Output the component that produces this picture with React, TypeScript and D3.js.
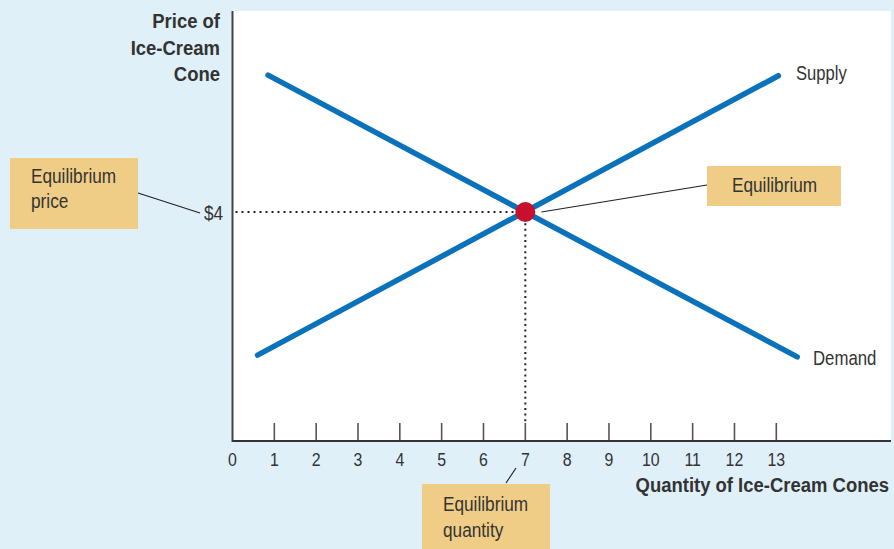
import React from "react";
import * as d3 from "d3";

const quantityTicks = [0, 1, 2, 3, 4, 5, 6, 7, 8, 9, 10, 11, 12, 13];
const supplyQ = [0.6, 13.05];
const supplyP = [1.5, 6.38];
const demandQ = [0.85, 13.5];
const demandP = [6.39, 1.47];
const eqQuantity = 7;
const eqPrice = 4;
const priceTickLabels = ["$4"];

const W = 894;
const H = 549;
const FONT = "'Liberation Sans', Arial, sans-serif";
const TXT = "#333";
const BOX = "#efcd86";
const BG = "#dff0f9";
const BLUE = "#0a72bb";

type TProps = {
  x: number;
  y: number;
  size: number;
  sx: number;
  bold?: boolean;
  anchor?: "start" | "middle" | "end";
  children: React.ReactNode;
};

function T({ x, y, size, sx, bold, anchor = "start", children }: TProps) {
  return (
    <text
      transform={`translate(${x},${y}) scale(${sx},1)`}
      fontSize={size}
      fontWeight={bold ? "bold" : "normal"}
      textAnchor={anchor}
      fill={TXT}
    >
      {children}
    </text>
  );
}

export default function App() {
  const x = d3.scaleLinear().domain([0, 13]).range([232.5, 776.3]);
  const y = d3.scaleLinear().domain([0, 4]).range([441, 212]);
  const line = d3
    .line<[number, number]>()
    .x((d) => x(d[0]))
    .y((d) => y(d[1]));
  const supply: [number, number][] = supplyQ.map((q, i) => [q, supplyP[i]]);
  const demand: [number, number][] = demandQ.map((q, i) => [q, demandP[i]]);
  const ex = x(eqQuantity);
  const ey = y(eqPrice);
  const x0 = x(0);
  const y0 = y(0);

  return (
    <svg
      width={W}
      height={H}
      style={{ position: "absolute", left: 0, top: 0, fontFamily: FONT }}
    >
      <rect x={0} y={0} width={W} height={H} fill={BG} />
      <rect x={x0} y={11} width={891 - x0} height={y0 - 11} fill="#fff" />

      {/* axis titles */}
      <T x={220} y={28} size={21} sx={0.88} bold anchor="end">Price of</T>
      <T x={220} y={55} size={21} sx={0.88} bold anchor="end">Ice-Cream</T>
      <T x={220} y={81} size={21} sx={0.88} bold anchor="end">Cone</T>
      <T x={889} y={492} size={21} sx={0.88} bold anchor="end">
        Quantity of Ice-Cream Cones
      </T>

      {/* ticks */}
      {quantityTicks.map((t) => (
        <g key={t}>
          {t > 0 && (
            <line x1={x(t)} x2={x(t)} y1={y0 - 18} y2={y0} stroke="#555" strokeWidth={1.6} />
          )}
          <T x={x(t)} y={466} size={18.5} sx={0.86} anchor="middle">
            {t}
          </T>
        </g>
      ))}
      <T x={223} y={ey + 8} size={20} sx={0.86} anchor="end">
        {priceTickLabels[0]}
      </T>

      {/* dotted guides */}
      <line x1={x0 + 3} x2={ex} y1={ey} y2={ey} stroke="#222" strokeWidth={2} strokeDasharray="2,4" />
      <line x1={ex} x2={ex} y1={ey} y2={y0 - 18} stroke="#222" strokeWidth={2} strokeDasharray="2,3.6" />

      {/* axes */}
      <line x1={x0} x2={x0} y1={11} y2={y0 + 1} stroke="#444" strokeWidth={2} />
      <line x1={x0} x2={891} y1={y0} y2={y0} stroke="#333" strokeWidth={2} />

      {/* curves */}
      <path d={line(supply) || ""} stroke={BLUE} strokeWidth={5.5} fill="none" strokeLinecap="round" />
      <path d={line(demand) || ""} stroke={BLUE} strokeWidth={5.5} fill="none" strokeLinecap="round" />
      <circle cx={ex} cy={ey} r={10} fill="#c8102e" />

      <T x={796} y={80} size={20} sx={0.83}>Supply</T>
      <T x={813} y={365} size={20} sx={0.84}>Demand</T>

      {/* leader lines */}
      <line x1={ex + 16} y1={ey} x2={707} y2={185} stroke="#222" strokeWidth={1.2} />
      <line x1={138} y1={193} x2={200} y2={ey + 1} stroke="#222" strokeWidth={1.2} />
      <line x1={516} y1={468} x2={506} y2={483} stroke="#222" strokeWidth={1.2} />

      {/* callout boxes */}
      <rect x={10} y={158} width={128} height={71} fill={BOX} />
      <T x={31} y={183} size={20.5} sx={0.84}>Equilibrium</T>
      <T x={31} y={208} size={20.5} sx={0.84}>price</T>

      <rect x={707} y={166} width={134} height={40} fill={BOX} />
      <T x={732} y={192} size={20.5} sx={0.84}>Equilibrium</T>

      <rect x={422} y={484} width={128} height={70} fill={BOX} />
      <T x={443} y={511} size={20.5} sx={0.84}>Equilibrium</T>
      <T x={443} y={537} size={20.5} sx={0.84}>quantity</T>
    </svg>
  );
}
